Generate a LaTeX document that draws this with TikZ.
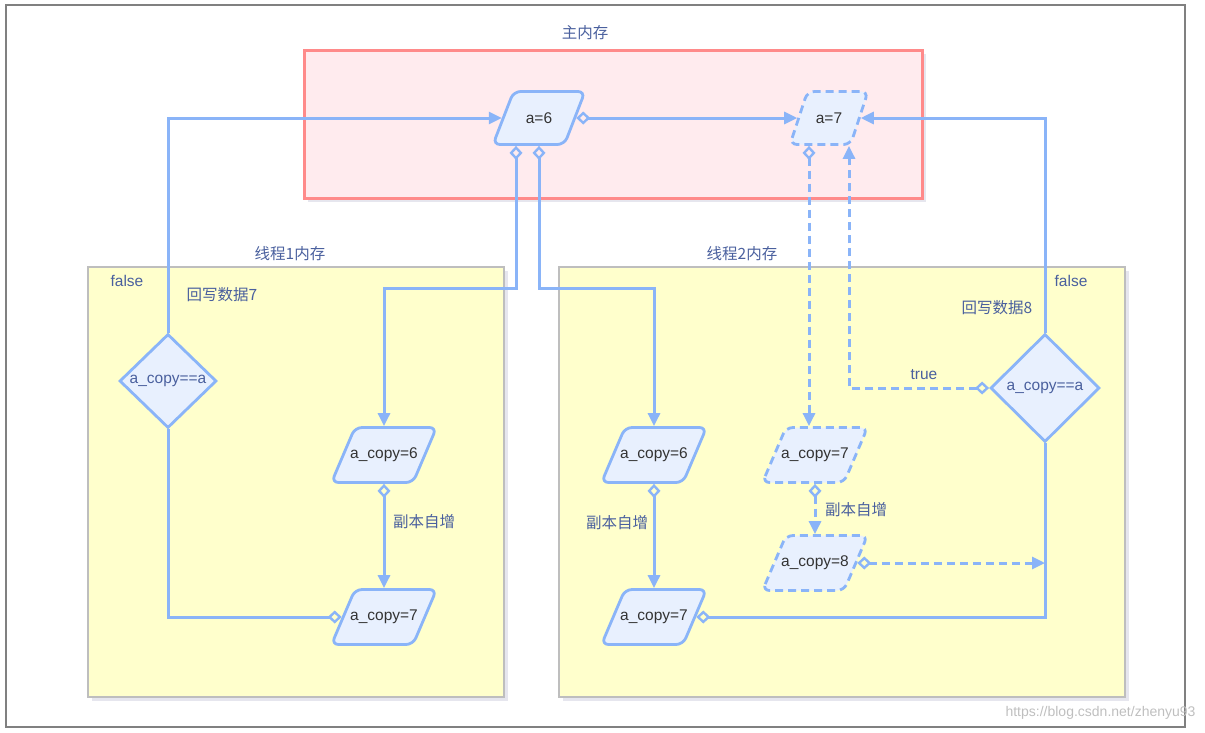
\documentclass[tikz,border=0pt]{standalone}
\usepackage{fontspec}
\setmainfont{Liberation Sans}
\newfontfamily\cjk{Noto Sans CJK SC}
\usepackage{xcolor}
\definecolor{Col1}{RGB}{138,180,248}
\definecolor{Col2}{RGB}{232,240,254}
\definecolor{Col3}{RGB}{74,96,158}
\definecolor{Col4}{RGB}{51,51,51}
\definecolor{Col5}{RGB}{190,190,190}
\definecolor{Col6}{RGB}{255,255,204}
\definecolor{Col7}{RGB}{255,138,138}
\definecolor{Col8}{RGB}{255,235,238}
\definecolor{Col9}{RGB}{128,128,128}
\definecolor{Col10}{RGB}{205,205,222}
\usepackage{tikz}
\usetikzlibrary{shapes.geometric}
\usetikzlibrary{arrows.meta}
\usetikzlibrary{shadows}
\tikzset{Src/.tip={Diamond[open,length=14pt,width=13pt,line width=2.4pt]},
    Dst/.tip={Triangle[length=13pt,width=12pt]}}
\tikzstyle{NodeT}=[font=\fontsize{15.5}{18}\selectfont,text=Col4,
draw=none,fill=none,inner sep=0pt,solid]
\tikzstyle{Lab}=[font=\fontsize{15.5}{18}\selectfont,text=Col3,inner sep=0pt]
\tikzstyle{Data}=[trapezium,trapezium left angle=68,trapezium right angle=112,
trapezium stretches=true,draw=Col1,fill=Col2,line width=2.8pt,
rounded corners=7pt,inner sep=1pt,minimum width=105pt,minimum height=55pt]
\tikzstyle{Cond}=[diamond,draw=Col1,fill=Col2,line width=2.8pt,inner sep=1pt]
\tikzstyle{Dash}=[dash pattern=on 8pt off 5pt]
\tikzstyle{Edge}=[draw=Col1,line width=3pt]
\tikzstyle{Tip}=[Src-Dst]
\tikzstyle{Back}=[Src-]
\tikzstyle{Panel}=[draw=Col5,fill=Col6,line width=1.2pt,
drop shadow={shadow xshift=4pt,shadow yshift=-4pt,fill=Col10,opacity=.5}]
\tikzstyle{Mem}=[draw=Col7,fill=Col8,line width=3pt,
drop shadow={shadow xshift=4pt,shadow yshift=-4pt,fill=Col10,opacity=.5}]

\begin{document}
\begin{tikzpicture}[x=1pt,y=1pt]
            \useasboundingbox(0,0)rectangle(1205,-732);
            \draw[Col9,line width=2pt](6,-5)rectangle(1185,-727);
            \node[Mem,minimum width=618pt,minimum height=148pt](main)
                at(613.00,-124.00){};
            \node[Panel,minimum width=416pt,minimum height=430pt](t1)
                at(296.00,-482.00){};
            \node[Panel,minimum width=566pt,minimum height=430pt](t2)
                at(842.00,-482.00){};
            \node[Lab](mainT)at(585.00,-33.00){\cjk 主内存};
            \node[Lab](t1T)at(290.00,-254.00){\cjk 线程1内存};
            \node[Lab](t2T)at(742.00,-254.00){\cjk 线程2内存};
            %
            \node[Data,minimum width=92pt,minimum height=53pt,
                label={[NodeT]center:{a=6}}](a6)at(539.00,-118.00){};
            \node[Data,Dash,minimum width=78pt,minimum height=53pt,
                label={[NodeT]center:{a=7}}](a7)at(829.00,-118.00){};
            \node[Data,label={[NodeT]center:{a\_copy=6}}](lc6)
                at(384.00,-455.00){};
            \node[Data,label={[NodeT]center:{a\_copy=7}}](lc7)
                at(384.00,-617.00){};
            \node[Data,label={[NodeT]center:{a\_copy=6}}](rc6)
                at(654.00,-455.00){};
            \node[Data,label={[NodeT]center:{a\_copy=7}}](rc7)
                at(654.00,-617.00){};
            \node[Data,Dash,label={[NodeT]center:{a\_copy=7}}](dc7)
                at(815.00,-455.00){};
            \node[Data,Dash,label={[NodeT]center:{a\_copy=8}}](dc8)
                at(815.00,-563.00){};
            \node[Cond,minimum width=97pt,minimum height=94pt,
                label={[NodeT,text=Col3]center:{a\_copy==a}}](lcond)
                at(168.00,-381.00){};
            \node[Cond,minimum width=109pt,minimum height=108pt,
                label={[NodeT,text=Col3]center:{a\_copy==a}}](rcond)
                at(1045.00,-388.00){};
            %
            \draw[Edge,-Dst](lcond.north)|-(a6.west);
            \draw[Edge,Back](lc7.west)-|(lcond.south);
            \draw[Edge,Tip]([xshift=-23pt]a6.south)--++(0,-142.5)-|(lc6.north);
            \draw[Edge,Tip](a6.south)--++(0,-142.5)-|(rc6.north);
            \draw[Edge,Tip](a6.east)--(a7.west);
            \draw[Edge,Dash,Tip]([xshift=-20pt]a7.south)
                --([xshift=-20pt]a7.south|-dc7.north);
            \draw[Edge,Dash,Tip](rcond.west)-|([xshift=20pt]a7.south);
            \draw[Edge,Dash,Tip](dc8.east)--(rcond.south|-dc8.east);
            \draw[Edge,Back](rc7.east)-|(rcond.south);
            \draw[Edge,-Dst](rcond.north)|-(a7.east);
            \draw[Edge,Tip](lc6.south)--(lc7.north);
            \draw[Edge,Tip](rc6.south)--(rc7.north);
            \draw[Edge,Dash,Tip](dc7.south)--(dc8.north);
            %
            \node[Lab](f1)at(127.00,-281.00){false};
            \node[Lab](w7)at(222.00,-295.00){\cjk 回写数据7};
            \node[Lab](f2)at(1071.00,-281.00){false};
            \node[Lab](w8)at(997.00,-308.00){\cjk 回写数据8};
            \node[Lab](tr)at(924.00,-375.00){true};
            \node[Lab](i1)at(424.00,-522.00){\cjk 副本自增};
            \node[Lab](i2)at(617.00,-523.00){\cjk 副本自增};
            \node[Lab](i3)at(856.00,-510.00){\cjk 副本自增};
            \node[font=\fontsize{14}{16}\selectfont,text=black!25,anchor=east]
                (wm)at(1199.00,-713.00){https://blog.csdn.net/zhenyu93};
        \end{tikzpicture}
\end{document}
